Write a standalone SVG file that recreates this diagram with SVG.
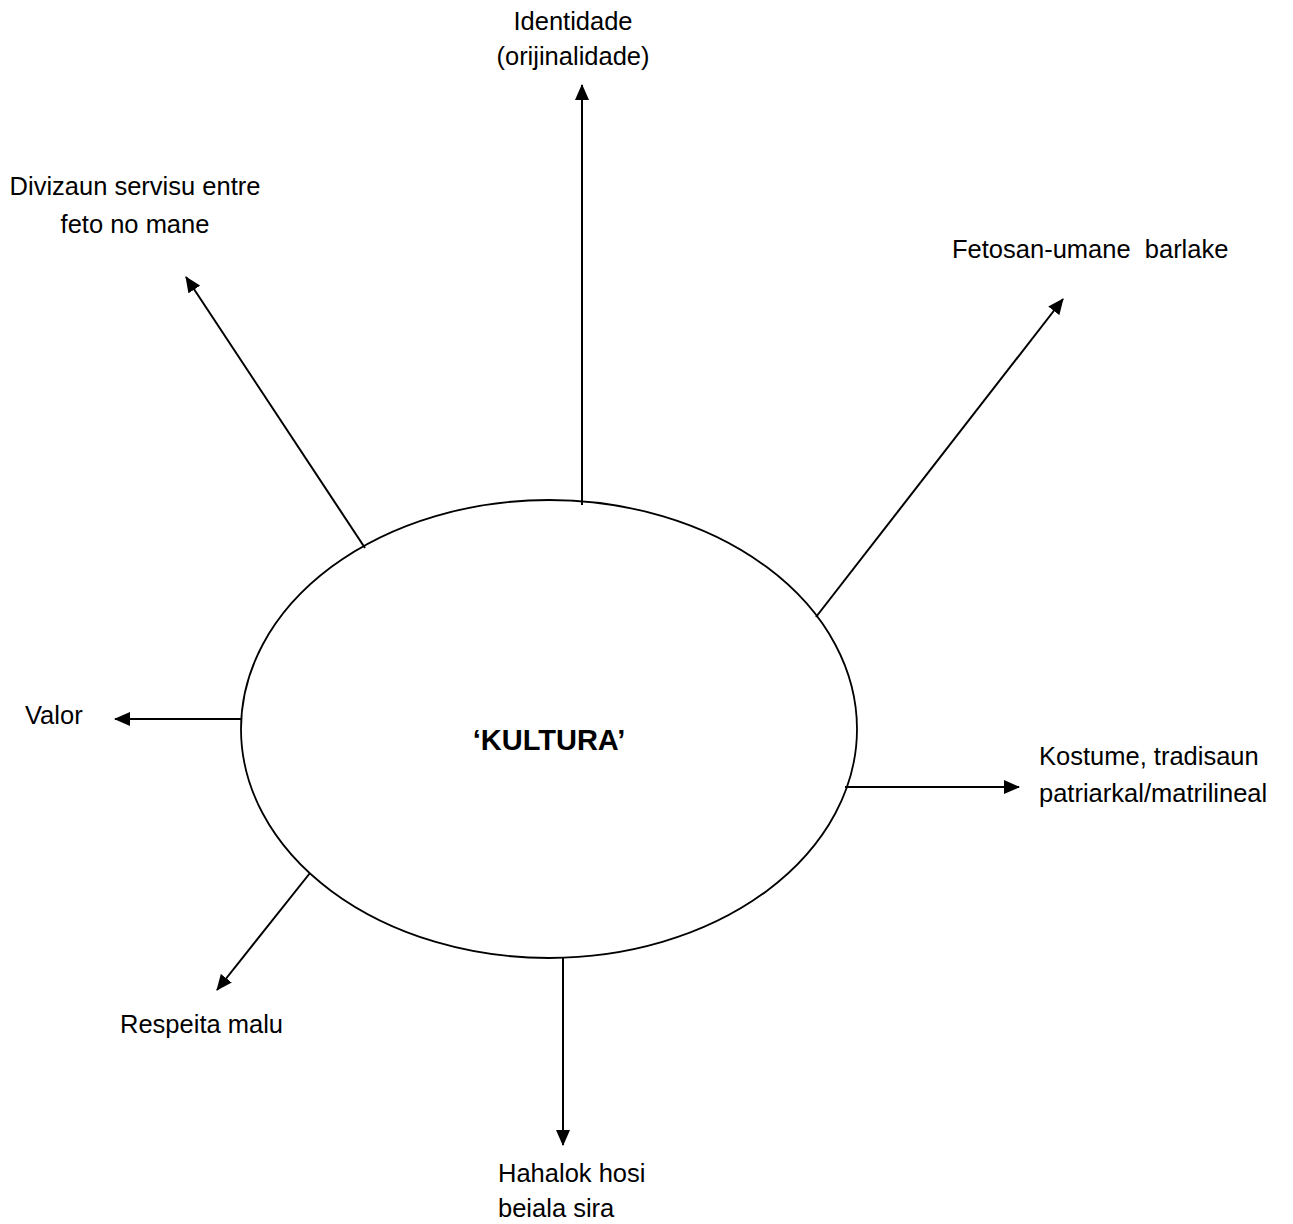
<svg xmlns="http://www.w3.org/2000/svg" width="1293" height="1224" viewBox="0 0 1293 1224">
<defs>
<marker id="ah" markerWidth="16" markerHeight="14" refX="15" refY="7" orient="auto" markerUnits="userSpaceOnUse">
<path d="M0,0 L16,7 L0,14 z" fill="#000"/>
</marker>
<style>
.t{font-family:"Liberation Sans",Arial,sans-serif;font-size:25.5px;fill:#000}
.c{stroke:#000;stroke-width:2;fill:none;marker-end:url(#ah)}
</style>
</defs>
<rect width="1293" height="1224" fill="#fff"/>
<g id="center">
<ellipse cx="549" cy="729" rx="308" ry="229" fill="#fff" stroke="#000" stroke-width="1.8"/>
<text x="549" y="750" text-anchor="middle" style="font-family:'Liberation Sans',Arial,sans-serif;font-size:29px;font-weight:bold">‘KULTURA’</text>
</g>
<g id="connectors">
<line class="c" x1="582" y1="505" x2="582" y2="85"/>
<line class="c" x1="365" y1="548" x2="186" y2="277"/>
<line class="c" x1="816" y1="617" x2="1063" y2="299"/>
<line class="c" x1="241" y1="719" x2="115" y2="719"/>
<line class="c" x1="845" y1="787" x2="1019" y2="787"/>
<line class="c" x1="310" y1="873" x2="217" y2="990"/>
<line class="c" x1="563" y1="958" x2="563" y2="1145"/>
</g>
<g id="identidade">
<text class="t" x="573" y="30" text-anchor="middle">Identidade</text>
<text class="t" x="573" y="65" text-anchor="middle">(orijinalidade)</text>
</g>
<g id="divizaun">
<text class="t" x="135" y="195" text-anchor="middle">Divizaun servisu entre</text>
<text class="t" x="135" y="233" text-anchor="middle">feto no mane</text>
</g>
<g id="fetosan">
<text class="t" x="952" y="258" xml:space="preserve">Fetosan-umane  barlake</text>
</g>
<g id="valor">
<text class="t" x="25" y="724">Valor</text>
</g>
<g id="kostume">
<text class="t" x="1039" y="765">Kostume, tradisaun</text>
<text class="t" x="1039" y="802">patriarkal/matrilineal</text>
</g>
<g id="respeita">
<text class="t" x="120" y="1033">Respeita malu</text>
</g>
<g id="hahalok">
<text class="t" x="498" y="1182">Hahalok hosi</text>
<text class="t" x="498" y="1217">beiala sira</text>
</g>
</svg>
